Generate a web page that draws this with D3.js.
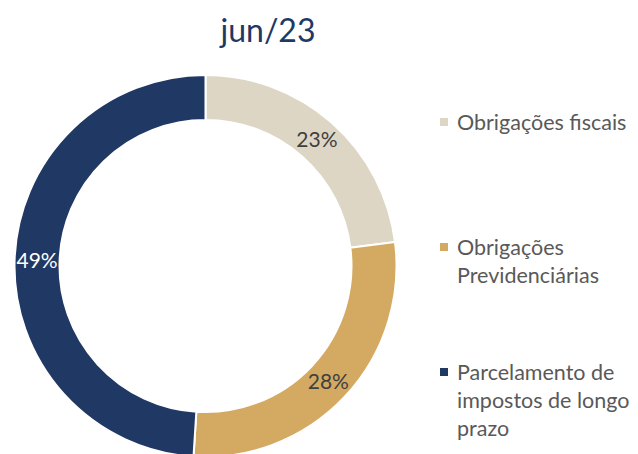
<!DOCTYPE html>
<html>
<head>
<meta charset="utf-8">
<script src="https://cdn.jsdelivr.net/npm/d3@7"></script>
<style>
  body { margin: 0; background: #fff; }
  text { font-family: Lato, "Open Sans", sans-serif; }
</style>
</head>
<body>
<div id="app"></div>
<script>
let title = 'jun/23';
let categories = ['Obrigações fiscais', 'Obrigações Previdenciárias', 'Parcelamento de impostos de longo prazo'];
let values = [23, 28, 49];
let legendLines = [['Obrigações fiscais'], ['Obrigações', 'Previdenciárias'], ['Parcelamento de', 'impostos de longo', 'prazo']];
let colors = ['#ded6c5', '#d4aa62', '#203864'];
let labelColors = ['#404040', '#404040', '#ffffff'];

let width = 638;
let height = 454;
let cx = 205.5, cy = 266;
let outerR = 191, innerR = 146;

let svg = d3.select('#app').append('svg')
    .attr('width', width)
    .attr('height', height);

svg.append('text')
    .attr('x', 268)
    .attr('y', 42)
    .attr('text-anchor', 'middle')
    .style('font-size', '32px')
    .style('fill', '#203864')
    .text(title);

let pie = d3.pie().sort(null).value(d => d);
let arc = d3.arc().innerRadius(innerR).outerRadius(outerR);

let g = svg.append('g').attr('transform', `translate(${cx},${cy})`);

let arcs = pie(values);

g.selectAll('path')
  .data(arcs)
  .enter()
  .append('path')
    .attr('d', arc)
    .style('fill', (d, i) => colors[i])
    .style('stroke', '#fff')
    .style('stroke-width', 2);

g.selectAll('text.lbl')
  .data(arcs)
  .enter()
  .append('text')
    .attr('class', 'lbl')
    .attr('transform', d => `translate(${arc.centroid(d)})`)
    .attr('text-anchor', 'middle')
    .attr('dy', '0.35em')
    .style('font-size', '21px')
    .style('fill', (d, i) => labelColors[i])
    .text(d => d.data + '%');

// legend
let legendY = [122, 247, 372];
let lineH = 28;
let legend = svg.append('g');

legendLines.forEach((lines, i) => {
  legend.append('rect')
    .attr('x', 440)
    .attr('y', legendY[i] - 4)
    .attr('width', 8)
    .attr('height', 8)
    .style('fill', colors[i]);
  lines.forEach((t, j) => {
    legend.append('text')
      .attr('x', 457)
      .attr('y', legendY[i] + j * lineH)
      .attr('dy', '0.35em')
      .style('font-size', '21.5px')
      .style('fill', '#595959')
      .text(t);
  });
});
</script>
</body>
</html>
